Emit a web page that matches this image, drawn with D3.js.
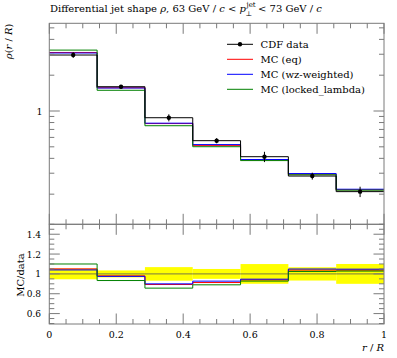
<!DOCTYPE html>
<html><head><meta charset="utf-8">
<script src="https://cdn.jsdelivr.net/npm/d3@7"></script>
<style>body{margin:0;background:#fff}svg{display:block}</style>
</head><body><svg id="c" width="397" height="358" font-family="'DejaVu Serif', serif"></svg>
<script>
// ---- data ----
const binEdges = [0, 1/7, 2/7, 3/7, 4/7, 5/7, 6/7, 1];
const cdfData = [2.955, 1.60, 0.878, 0.563, 0.413, 0.284, 0.21];
const cdfErr  = [0.16, 0.056, 0.060, 0.028, 0.041, 0.019, 0.021];
const mcEq     = [3.103, 1.568, 0.784, 0.514, 0.388, 0.295, 0.218];
const mcWz     = [3.073, 1.560, 0.790, 0.522, 0.391, 0.298, 0.220];
const mcLocked = [3.250, 1.493, 0.752, 0.501, 0.383, 0.291, 0.216];
const seriesNames = ["MC (eq)", "MC (wz-weighted)", "MC (locked_lambda)"];
const seriesColors = ["#ff0000", "#0000ff", "#008000"];
const xTickLabels = ["0", "0.2", "0.4", "0.6", "0.8", "1"];
const ratioTickLabels = ["0.6", "0.8", "1", "1.2", "1.4"];

const svg = d3.select("#c");
const FONT = "'DejaVu Serif', serif";
const L = 49.3, R = 384, T = 23.3, MB = 224.3, RB = 324;
const x = d3.scaleLinear().domain([0, 1]).range([L, R]);
const y = d3.scaleLog().domain([0.1116, 5.46]).range([MB, T]);
const yr = d3.scaleLinear().domain([0.495, 1.5]).range([RB, MB]);
const axisCol = "#7a7a7a";

function txt(xx, yy, s, size, anchor) {
  return svg.append("text").attr("x", xx).attr("y", yy).attr("font-family", FONT)
    .attr("font-size", size).attr("text-anchor", anchor || "start").attr("fill", "#000").text(s);
}

function stepPath(vals, ys) {
  const p = d3.path();
  vals.forEach((v, i) => {
    const x0 = x(binEdges[i]), x1 = x(binEdges[i + 1]), yy = ys(v);
    if (i === 0) p.moveTo(x0, yy); else p.lineTo(x0, yy);
    p.lineTo(x1, yy);
  });
  return p.toString();
}

// ---- ratio band ----
const band = svg.append("g");
cdfData.forEach((d, i) => {
  const rel = cdfErr[i] / d;
  band.append("rect").attr("x", x(binEdges[i])).attr("width", x(binEdges[i + 1]) - x(binEdges[i]))
    .attr("y", yr(1 + rel)).attr("height", yr(1 - rel) - yr(1 + rel)).attr("fill", "#ffff00");
});
svg.append("path").attr("d", stepPath(cdfData.map(() => 1), yr)).attr("fill", "none").attr("stroke", "#555").attr("stroke-width", 0.8);

// ---- MC lines ----
const mcs = [mcEq, mcWz, mcLocked];
mcs.forEach((s, k) => {
  svg.append("path").attr("d", stepPath(s, y)).attr("fill", "none").attr("stroke", seriesColors[k]).attr("stroke-width", 1);
  svg.append("path").attr("d", stepPath(s.map((v, i) => v / cdfData[i]), yr)).attr("fill", "none").attr("stroke", seriesColors[k]).attr("stroke-width", 1);
});

// ---- data ----
svg.append("path").attr("d", stepPath(cdfData, y)).attr("fill", "none").attr("stroke", "#000").attr("stroke-width", 1);
cdfData.forEach((d, i) => {
  const cx = x((binEdges[i] + binEdges[i + 1]) / 2);
  svg.append("line").attr("x1", cx).attr("x2", cx).attr("y1", y(d + cdfErr[i])).attr("y2", y(d - cdfErr[i])).attr("stroke", "#000").attr("stroke-width", 1);
  svg.append("circle").attr("cx", cx).attr("cy", y(d)).attr("r", 2.2).attr("fill", "#000");
});

// ---- frames and ticks ----
function frame(top, bot) {
  svg.append("rect").attr("x", L).attr("y", top).attr("width", R - L).attr("height", bot - top)
    .attr("fill", "none").attr("stroke", axisCol).attr("stroke-width", 1);
  d3.range(0, 1.0001, 0.05).forEach(v => {
    const major = Math.abs(Math.round(v * 5) - v * 5) < 1e-6;
    const len = major ? 10.5 : 5;
    svg.append("line").attr("x1", x(v)).attr("x2", x(v)).attr("y1", bot).attr("y2", bot - len).attr("stroke", axisCol);
    svg.append("line").attr("x1", x(v)).attr("x2", x(v)).attr("y1", top).attr("y2", top + len).attr("stroke", axisCol);
  });
}
frame(T, MB);
frame(MB, RB);

function yTick(yy, major) {
  const len = major ? 10.5 : 5;
  svg.append("line").attr("x1", L).attr("x2", L + len).attr("y1", yy).attr("y2", yy).attr("stroke", axisCol);
  svg.append("line").attr("x1", R).attr("x2", R - len).attr("y1", yy).attr("y2", yy).attr("stroke", axisCol);
}
[0.2, 0.3, 0.4, 0.5, 0.6, 0.7, 0.8, 0.9, 2, 3, 4, 5].forEach(v => yTick(y(v), false));
yTick(y(1), true);
txt(42.5, y(1) + 3.5, "1", 9.5, "end");

d3.range(0.5, 1.5001, 0.05).forEach(v => {
  const major = Math.abs(Math.round(v * 5) - v * 5) < 1e-6;
  yTick(yr(v), major);
});
ratioTickLabels.forEach(t => txt(41, yr(+t) + 3.5, t, 9, "end"));
xTickLabels.forEach(t => txt(x(+t), 337.5, t, 9.5, "middle"));

// ---- axis labels ----
svg.append("text").attr("x", 384).attr("y", 351).attr("text-anchor", "end").attr("font-family", FONT).attr("font-size", 10)
  .html('<tspan font-style="italic">r</tspan> / <tspan font-style="italic">R</tspan>');
svg.append("text").attr("transform", "translate(12,23.5) rotate(-90)").attr("text-anchor", "end").attr("font-family", FONT).attr("font-size", 10)
  .html('<tspan font-style="italic">ρ</tspan>(<tspan font-style="italic">r</tspan> / <tspan font-style="italic">R</tspan>)');
svg.append("text").attr("transform", "translate(24,275) rotate(-90)").attr("text-anchor", "middle").attr("font-family", FONT).attr("font-size", 10).text("MC/data");

// ---- title ----
const t1 = svg.append("text").attr("x", 50).attr("y", 11.5).attr("font-family", FONT).attr("font-size", 10)
  .html('Differential jet shape <tspan font-style="italic">ρ</tspan>, 63 GeV / <tspan font-style="italic">c</tspan> &lt; <tspan font-style="italic">p</tspan>');
const w1 = t1.node().getComputedTextLength();
txt(50 + w1 + 0.5, 7, "jet", 7);
txt(50 + w1 - 0.5, 15.5, "⊥", 7);
svg.append("text").attr("x", 50 + w1 + 12).attr("y", 11.5).attr("font-family", FONT).attr("font-size", 10)
  .html('&lt; 73 GeV / <tspan font-style="italic">c</tspan>');

// ---- legend ----
const legY = [44.3, 59.3, 74.3, 89.3];
svg.append("line").attr("x1", 227).attr("x2", 253).attr("y1", legY[0]).attr("y2", legY[0]).attr("stroke", "#000");
svg.append("circle").attr("cx", 240).attr("cy", legY[0]).attr("r", 2.2).attr("fill", "#000");
txt(260.5, legY[0] + 3.5, "CDF data", 10);
seriesNames.forEach((n, k) => {
  svg.append("line").attr("x1", 227).attr("x2", 253).attr("y1", legY[k + 1]).attr("y2", legY[k + 1]).attr("stroke", seriesColors[k]);
  txt(260.5, legY[k + 1] + 3.5, n, 10);
});
</script></body></html>
